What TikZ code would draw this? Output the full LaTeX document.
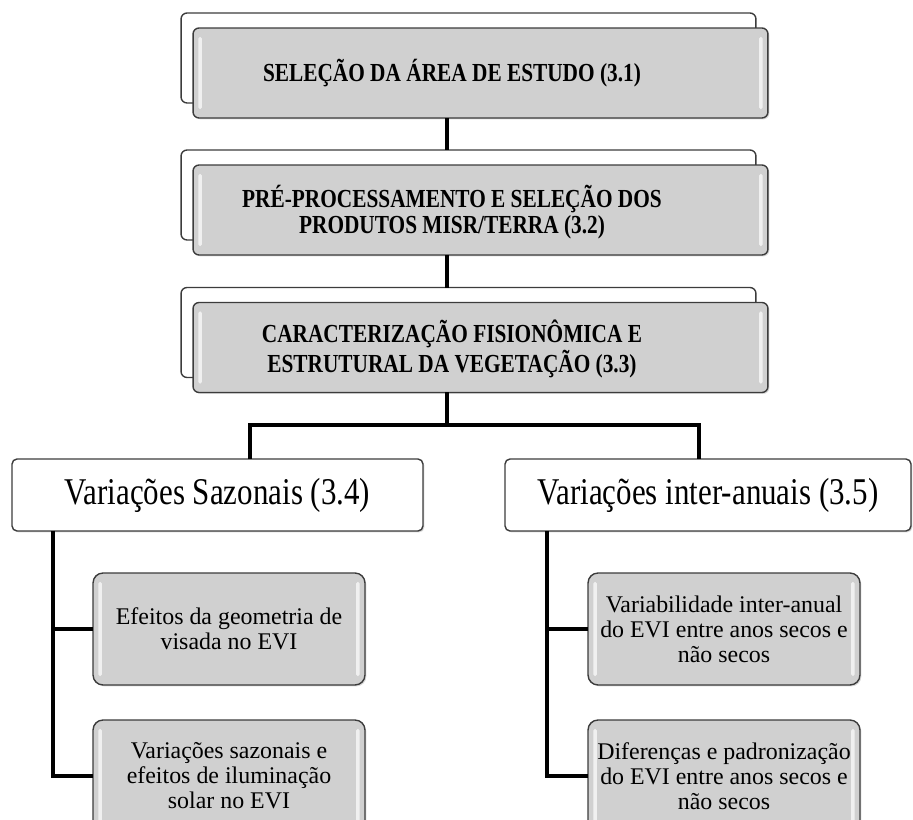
\documentclass[tikz,border=0pt]{standalone}
\usepackage{fontspec}
\setmainfont{Liberation Serif}
\newfontfamily\narrowserif[FakeStretch=0.82]{Liberation Serif}
\usetikzlibrary{shadows}

\definecolor{boxgray}{RGB}{208,208,208}
\definecolor{boxline}{RGB}{60,60,60}

\tikzset{
  gloss/.style={path picture={
      \fill[white,opacity=0.7,rounded corners=1pt] ([shift={(3pt,-5pt)}]path picture bounding box.north west)
        rectangle ([shift={(5pt,5pt)}]path picture bounding box.south west);
      \fill[white,opacity=0.7,rounded corners=1pt] ([shift={(-5pt,-5pt)}]path picture bounding box.north east)
        rectangle ([shift={(-3pt,5pt)}]path picture bounding box.south east);
  }},
  backbox/.style={draw=boxline, line width=0.8pt, fill=white, rounded corners=0.12cm,
    minimum width=11.5cm, minimum height=1.8cm, inner sep=0pt, outer sep=0pt},
  frontbox/.style={backbox, fill=boxgray, gloss,
    drop shadow={opacity=0.3, shadow xshift=0.8pt, shadow yshift=-0.8pt}},
  titletxt/.style={align=center, inner sep=0pt,
    font=\narrowserif\bfseries\fontsize{14.8}{14.4}\selectfont},
  groupbox/.style={draw=boxline, line width=0.8pt, fill=white, rounded corners=0.1cm,
    minimum height=1.44cm, inner sep=0pt, outer sep=0pt,
    drop shadow={opacity=0.3, shadow xshift=0.8pt, shadow yshift=-0.8pt},
    font=\narrowserif\fontsize{21.5}{24}\selectfont},
  leafbox/.style={draw=boxline, line width=0.8pt, fill=boxgray, rounded corners=0.2cm,
    minimum width=5.44cm, minimum height=2.24cm, inner sep=0pt, outer sep=0pt,
    align=center, gloss, drop shadow={opacity=0.3, shadow xshift=0.8pt, shadow yshift=-0.8pt},
    font=\fontsize{13.6}{14.3}\selectfont},
  conn/.style={line width=2pt, black}
}

\begin{document}
\begin{tikzpicture}[x=0.02cm, y=-0.02cm]
  % Picture frame
  \useasboundingbox (0,0) rectangle (913,820);

  % Helper positions for the connectors
  \coordinate (spine) at (447,0);
  \coordinate (jl) at (250,425);
  \coordinate (jr) at (699,425);
  \coordinate (sl) at (53,0);
  \coordinate (sr) at (547,0);

  % Stacked title boxes
  \node[backbox]  (b1) at (468.5,58) {};
  \node[frontbox] (f1) at (480.5,73) {};
  \node[titletxt] (l1) at (452,73) {SELEÇÃO DA ÁREA DE ESTUDO (3.1)};

  \node[backbox]  (b2) at (468.5,195) {};
  \node[frontbox] (f2) at (480.5,210) {};
  \node[titletxt] (l2) at (452,212) {PRÉ-PROCESSAMENTO E SELEÇÃO DOS\\PRODUTOS MISR/TERRA (3.2)};

  \node[backbox]  (b3) at (468.5,332.5) {};
  \node[frontbox] (f3) at (480.5,347.5) {};
  \node[titletxt] (l3) at (452,349) {CARACTERIZAÇÃO FISIONÔMICA E\\ESTRUTURAL DA VEGETAÇÃO (3.3)};

  % Two branches
  \node[groupbox, minimum width=8.22cm] (A) at (217.5,495) {Variações Sazonais (3.4)};
  \node[groupbox, minimum width=8.12cm] (B) at (708,495) {Variações inter-anuais (3.5)};

  % Leaves
  \node[leafbox] (s1) at (229,629) {Efeitos da geometria de\\visada no EVI};
  \node[leafbox] (s2) at (229,776) {Variações sazonais e\\efeitos de iluminação\\solar no EVI};
  \node[leafbox] (s3) at (724,629) {Variabilidade inter-anual\\do EVI entre anos secos e\\não secos};
  \node[leafbox] (s4) at (724,776) {Diferenças e padronização\\do EVI entre anos secos e\\não secos};

  % Connectors
  \draw[conn] (spine |- f1.south) -- (spine |- b2.north);
  \draw[conn] (spine |- f2.south) -- (spine |- b3.north);
  \draw[conn] (spine |- f3.south) -- (spine |- jl);
  \draw[conn] (jl |- A.north) -- (jl) -- (jr) -- (jr |- B.north);
  \draw[conn] (sl |- A.south) |- (s1.west);
  \draw[conn] (sl |- A.south) |- (s2.west);
  \draw[conn] (sr |- B.south) |- (s3.west);
  \draw[conn] (sr |- B.south) |- (s4.west);
\end{tikzpicture}
\end{document}
